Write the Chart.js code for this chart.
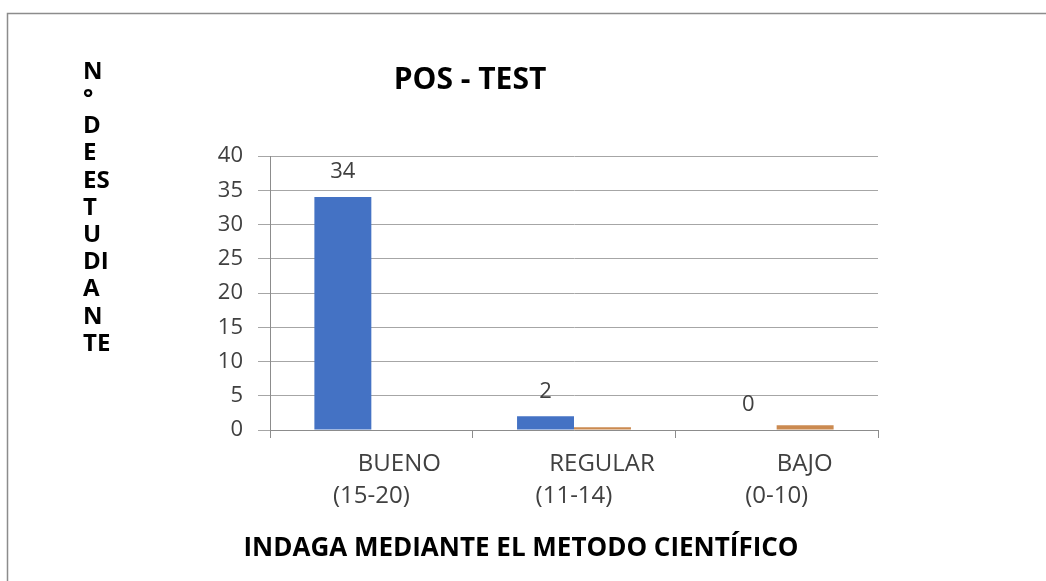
<!DOCTYPE html>
<html>
<head>
<meta charset="utf-8">
<script src="https://cdn.jsdelivr.net/npm/chart.js@4"></script>
<style>
  html, body { margin: 0; padding: 0; background: #ffffff; }
  #wrap { position: relative; width: 1046px; height: 581px; }
  canvas { display: block; }
</style>
</head>
<body>
<div id="wrap"><canvas id="c" width="1046" height="581"></canvas></div>
<script>
// ---- data ----
const categories = [["BUENO", "(15-20)"], ["REGULAR", "(11-14)"], ["BAJO", "(0-10)"]];
const seriesMain = [34, 2, 0];
const seriesSecond = [0, 0.4, 0.7];
const yTicks = [0, 5, 10, 15, 20, 25, 30, 35, 40];
const chartTitle = "POS - TEST";
const xTitle = "INDAGA MEDIANTE EL METODO CIENTÍFICO";
const yTitleLines = ["N", "°", "D", "E", "ES", "T", "U", "DI", "A", "N", "TE"];

const decor = {
  id: 'decor',
  beforeDraw(chart) {
    const ctx = chart.ctx;
    ctx.save();
    ctx.fillStyle = '#ffffff';
    ctx.fillRect(0, 0, chart.width, chart.height);
    ctx.strokeStyle = '#8c8c8c';
    ctx.lineWidth = 1.5;
    ctx.beginPath();
    ctx.moveTo(7.5, chart.height);
    ctx.lineTo(7.5, 13.5);
    ctx.lineTo(chart.width, 13.5);
    ctx.stroke();
    ctx.restore();
  },
  afterDraw(chart) {
    const ctx = chart.ctx;
    ctx.save();
    ctx.fillStyle = '#000000';
    ctx.textBaseline = 'middle';
    ctx.textAlign = 'center';
    ctx.font = 'bold 30px "Open Sans"';
    ctx.fillText(chartTitle, 470, 80);
    ctx.font = 'bold 26px "Open Sans"';
    ctx.fillText(xTitle, 521, 549);
    ctx.textAlign = 'left';
    ctx.font = 'bold 24px "Open Sans"';
    yTitleLines.forEach((t, i) => {
      ctx.fillText(t, 83, 72 + i * 27.2);
    });
    ctx.restore();
  }
};

const valueLabels = {
  id: 'valueLabels',
  afterDatasetsDraw(chart) {
    const ctx = chart.ctx;
    const meta = chart.getDatasetMeta(0);
    ctx.save();
    ctx.fillStyle = '#404040';
    ctx.font = '22px "Open Sans"';
    ctx.textAlign = 'center';
    ctx.textBaseline = 'middle';
    meta.data.forEach((el, i) => {
      ctx.fillText(String(seriesMain[i]), el.x, el.y - 25);
    });
    ctx.restore();
  }
};

new Chart(document.getElementById('c'), {
  type: 'bar',
  data: {
    labels: categories,
    datasets: [
      { label: 'Serie 1', data: seriesMain, backgroundColor: '#4472C4', categoryPercentage: 0.562, barPercentage: 1.0 },
      { label: 'Serie 2', data: seriesSecond, backgroundColor: '#CB8A50', categoryPercentage: 0.562, barPercentage: 1.0 }
    ]
  },
  options: {
    responsive: false,
    animation: false,
    layout: { padding: { left: 200, right: 168, top: 156, bottom: 0 } },
    plugins: {
      legend: { display: false },
      title: { display: false },
      tooltip: { enabled: false }
    },
    scales: {
      x: {
        afterFit(scale) { scale.height = 151; },
        grid: { display: true, drawOnChartArea: false, drawTicks: true, tickLength: 8, color: '#8c8c8c', offset: true },
        border: { display: true, color: '#8c8c8c', width: 1 },
        ticks: {
          autoSkip: false, maxRotation: 0, minRotation: 0, padding: 11,
          color: '#404040',
          font: { family: '"Open Sans"', size: 24, lineHeight: 1.3 },
          callback(value, index) {
            const c = categories[index];
            return [' '.repeat(9) + c[0], c[1]];
          }
        }
      },
      y: {
        min: 0, max: 40,
        afterFit(scale) { scale.width = 70; },
        afterBuildTicks(scale) { scale.ticks = yTicks.map(v => ({ value: v })); },
        grid: { color: '#a6a6a6', tickLength: 12, drawTicks: true },
        border: { display: true, color: '#8c8c8c', width: 1 },
        ticks: {
          padding: 15,
          color: '#404040',
          font: { family: '"Open Sans"', size: 22 }
        }
      }
    }
  },
  plugins: [decor, valueLabels]
});
</script>
</body>
</html>
